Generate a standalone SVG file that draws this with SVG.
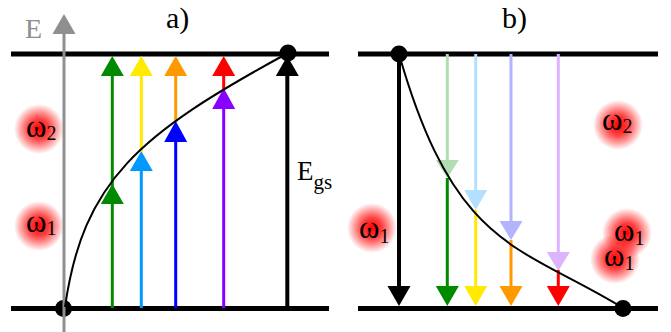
<svg xmlns="http://www.w3.org/2000/svg" width="671" height="332" viewBox="0 0 671 332">
<defs>
<radialGradient id="glow">
<stop offset="0" stop-color="#ff0000" stop-opacity="1"/>
<stop offset="0.4" stop-color="#ff1010" stop-opacity="0.8"/>
<stop offset="1" stop-color="#ff0000" stop-opacity="0"/>
</radialGradient>
</defs>
<style>
.lvl{stroke:#000;stroke-width:5;fill:none}
.v{stroke-width:3;fill:none}
.curve{stroke:#000;stroke-width:2;fill:none}
.t{font-family:"Liberation Serif","Times New Roman",serif;fill:#000}
.w{font-size:31px}
.s{font-size:20px}
.g{fill:url(#glow)}
</style>
<g id="glows">
<circle class="g" cx="39" cy="129" r="25"/>
<circle class="g" cx="39" cy="226" r="25"/>
<circle class="g" cx="372" cy="228" r="25"/>
<circle class="g" cx="618" cy="125" r="25"/>
<circle class="g" cx="627" cy="233" r="25"/>
<circle class="g" cx="615" cy="259" r="25"/>
</g>
<g id="levels">
<line class="lvl" x1="11" y1="54" x2="329" y2="54"/>
<line class="lvl" x1="11" y1="308.5" x2="329" y2="308.5"/>
<line class="lvl" x1="358" y1="54" x2="658" y2="54"/>
<line class="lvl" x1="358" y1="308.5" x2="658" y2="308.5"/>
</g>
<g id="connectors">
<line class="v" stroke="#008a00" x1="112.3" y1="308" x2="112.3" y2="70"/>
<polygon fill="#008a00" points="112.3,56 123.8,76 100.8,76"/>
<polygon fill="#008a00" points="112.3,184 123.8,204 100.8,204"/>
<line class="v" stroke="#0099ff" x1="141.3" y1="308" x2="141.3" y2="165"/>
<polygon fill="#0099ff" points="141.3,151 152.8,171 129.8,171"/>
<line class="v" stroke="#ffea00" x1="141.3" y1="152" x2="141.3" y2="70"/>
<polygon fill="#ffea00" points="141.3,56 152.8,76 129.8,76"/>
<line class="v" stroke="#0000ff" x1="175.7" y1="308" x2="175.7" y2="135"/>
<polygon fill="#0000ff" points="175.7,121 187.2,142 164.2,142"/>
<line class="v" stroke="#ff9900" x1="175.7" y1="122" x2="175.7" y2="70"/>
<polygon fill="#ff9900" points="175.7,56 187.2,76 164.2,76"/>
<line class="v" stroke="#8800ff" x1="223.7" y1="308" x2="223.7" y2="100"/>
<polygon fill="#8800ff" points="223.7,88 235.2,109 212.2,109"/>
<line class="v" stroke="#ff0000" x1="223.7" y1="89" x2="223.7" y2="70"/>
<polygon fill="#ff0000" points="223.7,56 235.2,76 212.2,76"/>
<line stroke="#000" stroke-width="4" x1="287.3" y1="308" x2="287.3" y2="70"/>
<polygon fill="#000" points="287.3,56 298.8,76 275.8,76"/>
<line stroke="#000" stroke-width="4" x1="399" y1="54" x2="399" y2="292"/>
<polygon fill="#000" points="399,306 410.5,286 387.5,286"/>
<line class="v" stroke="#b3dcb3" x1="447.3" y1="54" x2="447.3" y2="165"/>
<polygon fill="#b3dcb3" points="447.3,178 458.8,160 435.8,160"/>
<line class="v" stroke="#008a00" x1="447.3" y1="178" x2="447.3" y2="292"/>
<polygon fill="#008a00" points="447.3,306 458.8,286 435.8,286"/>
<line class="v" stroke="#b3e0ff" x1="475.7" y1="54" x2="475.7" y2="195"/>
<polygon fill="#b3e0ff" points="475.7,210 487.2,190 464.2,190"/>
<line class="v" stroke="#ffea00" x1="475.7" y1="210" x2="475.7" y2="292"/>
<polygon fill="#ffea00" points="475.7,306 487.2,286 464.2,286"/>
<line class="v" stroke="#b3b3ff" x1="511" y1="54" x2="511" y2="226"/>
<polygon fill="#b3b3ff" points="511,240 522.5,221 499.5,221"/>
<line class="v" stroke="#ff9900" x1="511" y1="240" x2="511" y2="292"/>
<polygon fill="#ff9900" points="511,306 522.5,286 499.5,286"/>
<line class="v" stroke="#dbb3ff" x1="558.3" y1="54" x2="558.3" y2="258"/>
<polygon fill="#dbb3ff" points="558.3,271 569.8,252 546.8,252"/>
<line class="v" stroke="#ff0000" x1="558.3" y1="270" x2="558.3" y2="292"/>
<polygon fill="#ff0000" points="558.3,306 569.8,286 546.8,286"/>
</g>
<g id="dots">
<circle cx="63.5" cy="308.5" r="8.5" fill="#000"/>
<circle cx="288" cy="53" r="8.5" fill="#000"/>
<circle cx="399" cy="54" r="8.5" fill="#000"/>
<circle cx="623" cy="308.5" r="8.5" fill="#000"/>
</g>
<g id="axis">
<line stroke="#8f8f8f" stroke-width="3" x1="64" y1="332" x2="64" y2="30"/>
<polygon fill="#8f8f8f" points="64,14 75.5,34 52.5,34"/>
<text class="t" x="25" y="38" font-size="28" style="fill:#8f8f8f">E</text>
</g>
<g id="curves">
<path class="curve" d="M65,307 C83,181 138,134.5 288,53"/>
<path class="curve" d="M399,54 C455,250 520,245 623,308"/>
</g>
<g id="labels">
<text class="t" x="166" y="28" font-size="30">a)</text>
<text class="t" x="502" y="28" font-size="30">b)</text>
<text class="t" x="297" y="180" font-size="27">E<tspan font-size="21" dy="9">gs</tspan></text>
<text class="t w" x="26" y="137">ω<tspan class="s" dy="3">2</tspan></text>
<text class="t w" x="26" y="232">ω<tspan class="s" dy="3">1</tspan></text>
<text class="t w" x="359" y="238">ω<tspan class="s" dy="5">1</tspan></text>
<text class="t w" x="602" y="130">ω<tspan class="s" dy="3">2</tspan></text>
<text class="t w" x="614" y="241">ω<tspan class="s" dy="4">1</tspan></text>
<text class="t w" x="604" y="266">ω<tspan class="s" dy="4">1</tspan></text>
</g>
</svg>
